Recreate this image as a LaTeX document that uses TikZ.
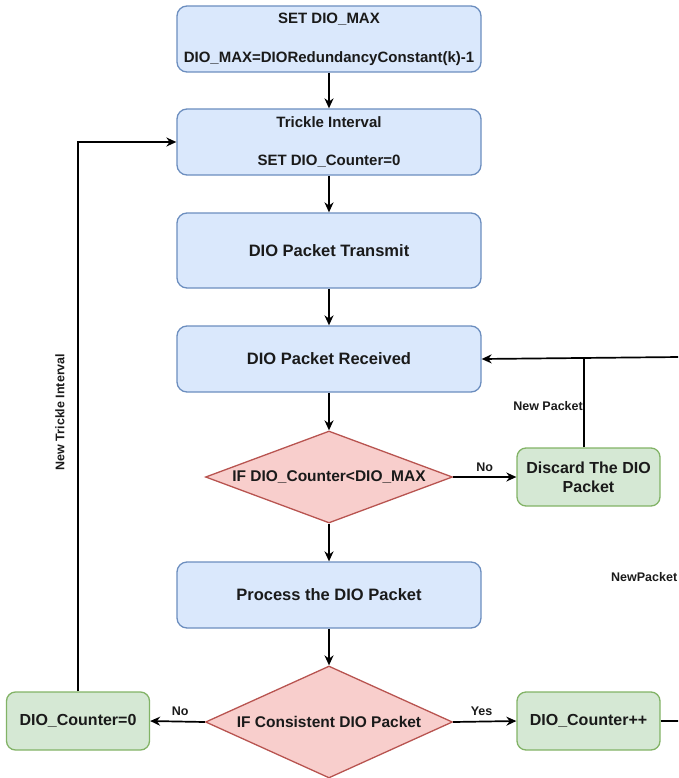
\documentclass[tikz,border=0pt]{standalone}
\usepackage{fontspec}
\setmainfont{Liberation Sans}
\usetikzlibrary{shapes.geometric,arrows.meta}

\definecolor{bluefill}{HTML}{DAE8FC}
\definecolor{bluedraw}{HTML}{6C8EBF}
\definecolor{greenfill}{HTML}{D5E8D4}
\definecolor{greendraw}{HTML}{82B366}
\definecolor{redfill}{HTML}{F8CECC}
\definecolor{reddraw}{HTML}{B85450}
\definecolor{ink}{HTML}{1A1A1A}

\tikzset{
  procbox/.style={draw=bluedraw, fill=bluefill, line width=1.3pt, rounded corners=10pt,
    minimum width=304pt, inner sep=0pt, align=center, text=ink,
    font=\bfseries\fontsize{16.5}{19}\selectfont},
  smallbox/.style={procbox, font=\bfseries\fontsize{15}{18}\selectfont},
  sidebox/.style={draw=greendraw, fill=greenfill, line width=1.3pt, rounded corners=9pt,
    minimum width=143pt, minimum height=58pt, inner sep=0pt, align=center, text=ink,
    font=\bfseries\fontsize{16}{19}\selectfont},
  decision/.style={diamond, aspect=3, draw=reddraw, fill=redfill, line width=1.3pt, inner sep=0pt,
    minimum width=247pt, text=ink, font=\bfseries\fontsize{15.5}{18}\selectfont},
  flow/.style={draw=black, line width=1.7pt, -{Stealth[length=10pt,width=9pt]}},
  plainflow/.style={draw=black, line width=1.7pt},
  tag/.style={font=\bfseries\fontsize{12.5}{14}\selectfont, text=ink, inner sep=1pt}
}

\begin{document}
\begin{tikzpicture}[x=1pt, y=-1pt]
  \useasboundingbox (0,0) rectangle (678,778);
  \clip (0,0) rectangle (678,778);

  % main column
  \node[smallbox, minimum height=66pt] (setmax) at (329,39)
    {SET DIO\_MAX\\[21pt]DIO\_MAX=DIORedundancyConstant(k)-1};
  \node[smallbox, minimum height=66pt] (trickle) at (329,142)
    {Trickle Interval\\[20pt]SET DIO\_Counter=0};
  \node[procbox, minimum height=75pt] (transmit) at (329,250.5) {DIO Packet Transmit};
  \node[procbox, minimum height=66pt] (received) at (329,359) {DIO Packet Received};
  \node[decision, minimum height=92pt] (check) at (329,477) {IF DIO\_Counter<DIO\_MAX};
  \node[procbox, minimum height=66pt] (process) at (329,595) {Process the DIO Packet};
  \node[decision, minimum height=112pt] (consistent) at (329,722) {IF Consistent DIO Packet};

  % side boxes
  \node[sidebox] (discard) at (588.5,477) {Discard The DIO\\Packet};
  \node[sidebox] (reset) at (78,721) {DIO\_Counter=0};
  \node[sidebox] (incr) at (588.5,721) {DIO\_Counter++};

  % loose ends at the right border
  \coordinate (rightIn) at (680,357);
  \coordinate (rightOut) at (680,721);
  \coordinate (joinNew) at (584,357);

  % straight flow
  \draw[flow] (setmax) -- (trickle);
  \draw[flow] (trickle) -- (transmit);
  \draw[flow] (transmit) -- (received);
  \draw[flow] (received) -- (check);
  \draw[flow] (check) -- (process);
  \draw[flow] (process) -- (consistent);

  % branches
  \draw[flow] (check.east) -- node[tag, above, pos=0.5, yshift=4pt] {No} (discard.west);
  \draw[flow] (consistent.west) -- node[tag, above, pos=0.45, yshift=4pt] {No} (reset.east);
  \draw[flow] (consistent.east) -- node[tag, above, pos=0.45, yshift=4pt] {Yes} (incr.west);
  \draw[plainflow] (incr.east) -- (rightOut);

  % new packet loop
  \draw[plainflow] (discard.north -| joinNew) -- (joinNew);
  \draw[flow] (rightIn) -- (received.east);
  \node[tag, anchor=east] (newpkt) at (584,406) {New Packet};
  \node[tag, anchor=west] (newpkt2) at (610,577) {NewPacket};

  % new trickle interval loop
  \draw[flow] (reset.north) |- (trickle.west);
  \node[tag, rotate=90] (newtrickle) at (60,412) {New Trickle Interval};
\end{tikzpicture}
\end{document}
